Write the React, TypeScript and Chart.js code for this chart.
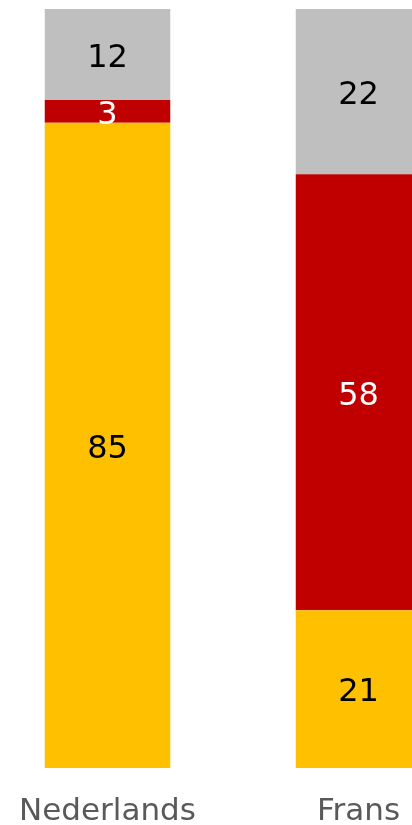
import React, { useEffect, useRef } from "react";
import { Chart, registerables } from "chart.js";

Chart.register(...registerables);

const categories = ["Nederlands", "Frans"];
const yellowValues = [85, 21];
const redValues = [3, 58];
const greyValues = [12, 22];

const seriesValues = [yellowValues, redValues, greyValues];
const seriesColors = ["#FFC000", "#C00000", "#BFBFBF"];
const labelColors = ["#000000", "#FFFFFF", "#000000"];

const totals = categories.map((_, i) =>
  seriesValues.reduce((s, arr) => s + arr[i], 0)
);

const FONT = "'DejaVu Sans', Verdana, sans-serif";

const labelPlugin = {
  id: "segmentLabels",
  afterDatasetsDraw(chart: any) {
    const ctx = chart.ctx;
    ctx.save();
    ctx.font = `32px ${FONT}`;
    ctx.textAlign = "center";
    ctx.textBaseline = "middle";
    chart.data.datasets.forEach((ds: any, di: number) => {
      const meta = chart.getDatasetMeta(di);
      meta.data.forEach((el: any, i: number) => {
        const v = seriesValues[di][i];
        const cy = (el.y + el.base) / 2;
        ctx.fillStyle = labelColors[di];
        ctx.fillText(String(v), el.x, cy + 4);
      });
    });
    ctx.restore();
  },
};

export default function App() {
  const ref = useRef<HTMLCanvasElement | null>(null);
  useEffect(() => {
    if (!ref.current) return;
    const chart = new Chart(ref.current, {
      type: "bar",
      data: {
        labels: categories,
        datasets: seriesValues.map((vals, di) => ({
          data: vals.map((v, i) => (v / totals[i]) * 100),
          backgroundColor: seriesColors[di],
          borderWidth: 0,
          barPercentage: 1,
          categoryPercentage: 0.5,
        })),
      },
      options: {
        animation: false,
        responsive: false,
        layout: { padding: { top: 9, left: 0, right: 0, bottom: 0 } },
        plugins: {
          legend: { display: false },
          tooltip: { enabled: false },
        },
        scales: {
          x: {
            stacked: true,
            grid: { display: false, drawTicks: false },
            border: { display: false },
            ticks: {
              color: "#595959",
              font: { family: FONT, size: 31 },
              padding: 25,
            },
            afterFit: (scale: any) => {
              scale.height = 57;
            },
          },
          y: {
            stacked: true,
            display: false,
            min: 0,
            max: 100,
          },
        },
      },
      plugins: [labelPlugin],
    });
    return () => chart.destroy();
  }, []);

  return (
    <div
      style={{
        position: "absolute",
        left: 0,
        top: 0,
        width: 412,
        height: 825,
        overflow: "hidden",
        background: "#fff",
      }}
    >
      <div style={{ position: "absolute", left: -18, top: 0, width: 502, height: 825 }}>
        <canvas ref={ref} width={502} height={825} style={{ display: "block" }} />
      </div>
    </div>
  );
}
